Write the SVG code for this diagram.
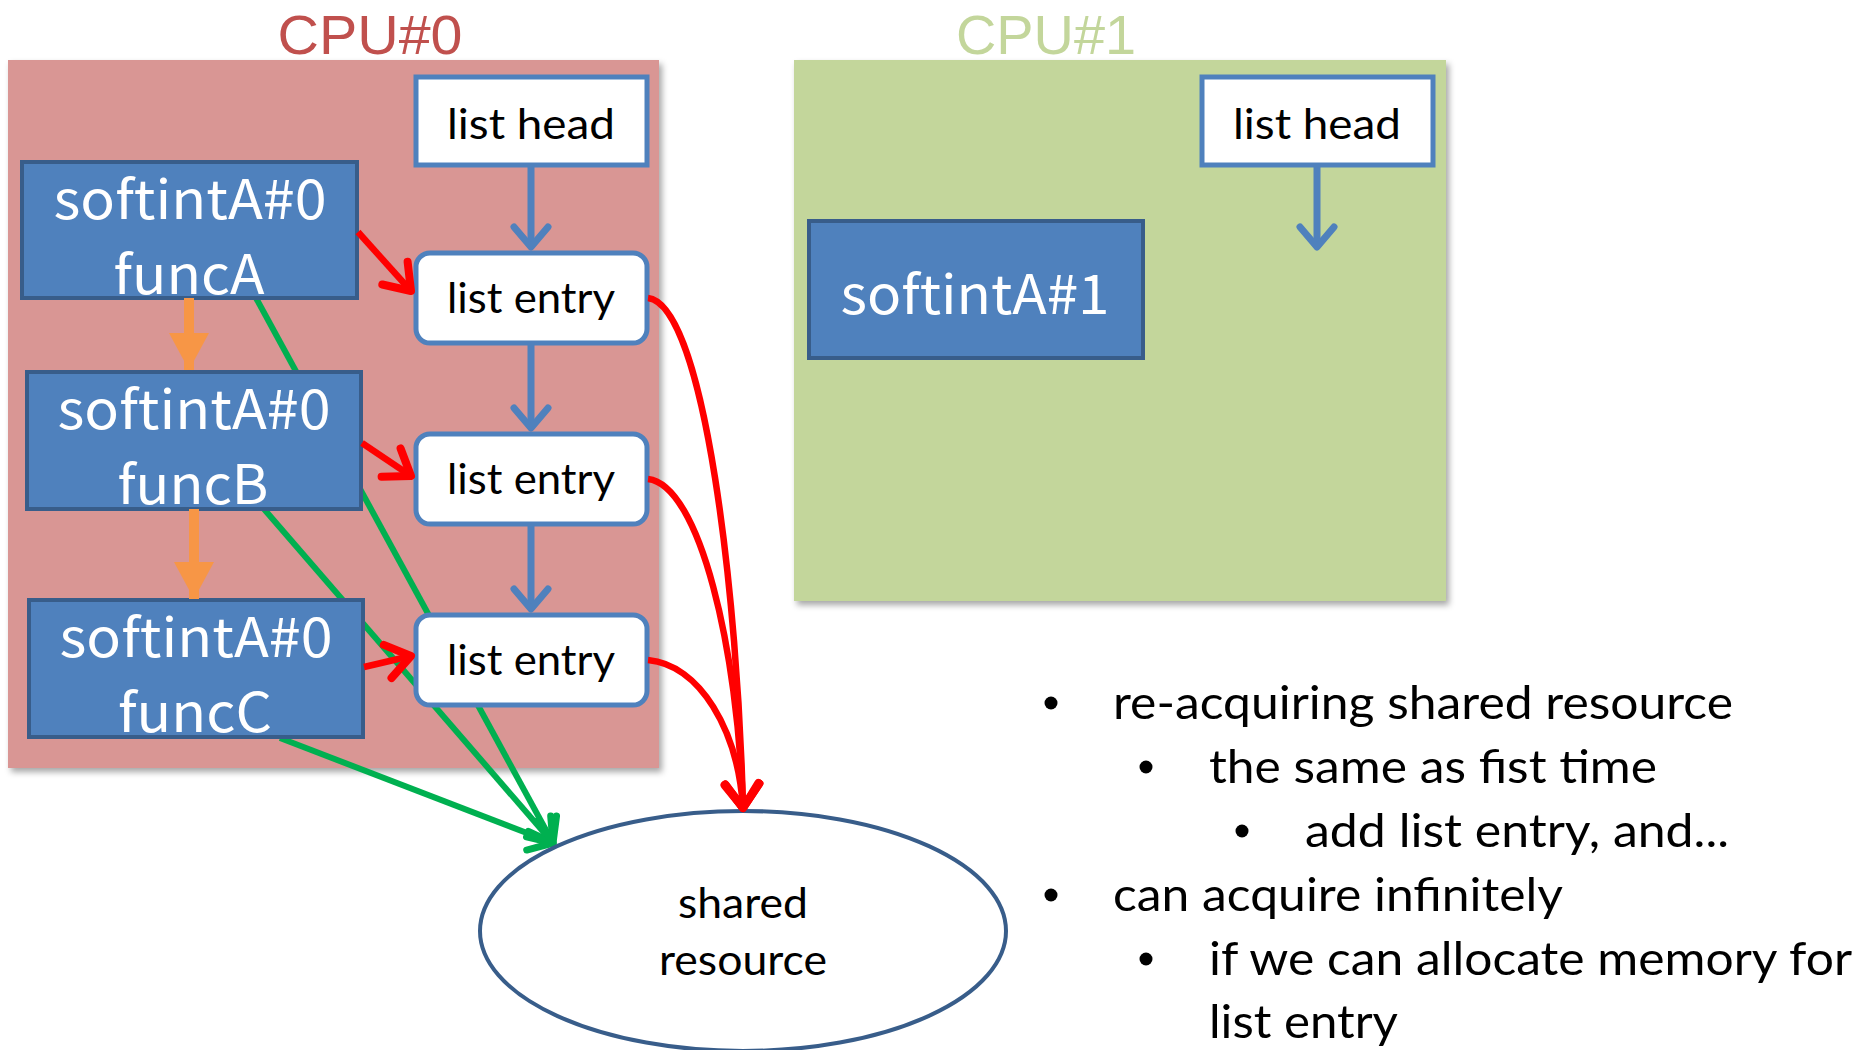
<svg xmlns="http://www.w3.org/2000/svg" width="1866" height="1050" viewBox="0 0 1866 1050">
  <style>
    .cal { font-family: Lato, "Open Sans", "Liberation Sans", sans-serif; fill: #000; }
    .goth { font-family: "Noto Sans CJK JP", "Liberation Sans", sans-serif; fill: #fff; }
    .title { font-family: "Liberation Sans", Arial, sans-serif; }
    .task { fill: #4f81bd; stroke: #385d8a; stroke-width: 4; }
    .head { fill: #fff; stroke: #4f81bd; stroke-width: 5; }
    .blue { stroke: #4f81bd; stroke-width: 7; fill: none; }
    .red { stroke: #ff0000; stroke-width: 6.5; fill: none; }
    .green { stroke: #00b050; stroke-width: 6; fill: none; }
    .orange { stroke: #f79646; stroke-width: 10; fill: none; }
  </style>
  <defs>
    <filter id="shadow" x="-5%" y="-5%" width="112%" height="112%">
      <feDropShadow dx="3" dy="4" stdDeviation="3" flood-color="#000" flood-opacity="0.35"/>
    </filter>
    <marker id="arrBlue" markerUnits="userSpaceOnUse" markerWidth="40" markerHeight="44" refX="24" refY="20" orient="auto" overflow="visible">
      <path d="M4,3 L24,20 L4,37" fill="none" stroke="#4f81bd" stroke-width="7" stroke-linecap="round" stroke-linejoin="round"/>
    </marker>
    <marker id="arrRed" markerUnits="userSpaceOnUse" markerWidth="40" markerHeight="44" refX="28" refY="20" orient="auto" overflow="visible">
      <path d="M4,3 L28,20 L4,37" fill="none" stroke="#ff0000" stroke-width="8" stroke-linecap="round" stroke-linejoin="round"/>
    </marker>
    <marker id="arrGreen" markerUnits="userSpaceOnUse" markerWidth="40" markerHeight="44" refX="26" refY="20" orient="auto" overflow="visible">
      <path d="M4,4 L26,20 L4,36" fill="none" stroke="#00b050" stroke-width="7" stroke-linecap="round" stroke-linejoin="round"/>
    </marker>
    <marker id="arrOrange" markerUnits="userSpaceOnUse" markerWidth="40" markerHeight="44" refX="37" refY="20" orient="auto" overflow="visible">
      <path d="M0,0 L37,20 L0,40 Z" fill="#f79646"/>
    </marker>
  </defs>

  <!-- CPU panels -->
  <g id="cpu0">
    <rect x="8" y="60" width="651" height="708" fill="#d99694" filter="url(#shadow)"/>
    <text class="title" x="370" y="54" font-size="56" fill="#c0504d" text-anchor="middle" textLength="185" lengthAdjust="spacingAndGlyphs">CPU#0</text>
  </g>
  <g id="cpu1">
    <rect x="794" y="60" width="652" height="541" fill="#c3d69b" filter="url(#shadow)"/>
    <text class="title" x="1046" y="54" font-size="56" fill="#c3d69b" text-anchor="middle" textLength="180" lengthAdjust="spacingAndGlyphs">CPU#1</text>
  </g>

  <!-- green lines run beneath the task boxes -->
  <g id="connectors-back">
    <path class="green" d="M256,298 L553,843" marker-end="url(#arrGreen)"/>
    <path class="green" d="M264,509 L553,843" marker-end="url(#arrGreen)"/>
    <path class="green" d="M280,738 L553,843" marker-end="url(#arrGreen)"/>
  </g>

  <!-- task boxes on CPU#0 -->
  <g id="funcA">
    <rect class="task" x="22" y="162" width="335" height="136"/>
    <text class="goth" x="190" y="219" font-size="54" text-anchor="middle" textLength="273" lengthAdjust="spacingAndGlyphs">softintA#0</text>
    <text class="goth" x="189" y="294" font-size="54" text-anchor="middle" textLength="151" lengthAdjust="spacingAndGlyphs">funcA</text>
  </g>
  <g id="funcB">
    <rect class="task" x="27" y="372" width="334" height="137"/>
    <text class="goth" x="194" y="429" font-size="54" text-anchor="middle" textLength="273" lengthAdjust="spacingAndGlyphs">softintA#0</text>
    <text class="goth" x="193" y="504" font-size="54" text-anchor="middle" textLength="151" lengthAdjust="spacingAndGlyphs">funcB</text>
  </g>
  <g id="funcC">
    <rect class="task" x="29" y="600" width="334" height="137"/>
    <text class="goth" x="196" y="657" font-size="54" text-anchor="middle" textLength="273" lengthAdjust="spacingAndGlyphs">softintA#0</text>
    <text class="goth" x="195" y="732" font-size="54" text-anchor="middle" textLength="154" lengthAdjust="spacingAndGlyphs">funcC</text>
  </g>

  <!-- list structures on CPU#0 -->
  <g id="head0">
    <rect class="head" x="416" y="77" width="231" height="88"/>
    <text class="cal" x="531" y="139" font-size="43" text-anchor="middle" textLength="168" lengthAdjust="spacingAndGlyphs">list head</text>
  </g>
  <g id="entry1">
    <rect class="head" x="416" y="253" width="231" height="90" rx="14"/>
    <text class="cal" x="531" y="313" font-size="43" text-anchor="middle" textLength="168" lengthAdjust="spacingAndGlyphs">list entry</text>
  </g>
  <g id="entry2">
    <rect class="head" x="416" y="434" width="231" height="90" rx="14"/>
    <text class="cal" x="531" y="494" font-size="43" text-anchor="middle" textLength="168" lengthAdjust="spacingAndGlyphs">list entry</text>
  </g>
  <g id="entry3">
    <rect class="head" x="416" y="615" width="231" height="90" rx="14"/>
    <text class="cal" x="531" y="675" font-size="43" text-anchor="middle" textLength="168" lengthAdjust="spacingAndGlyphs">list entry</text>
  </g>

  <!-- CPU#1 contents -->
  <g id="softintA1">
    <rect class="task" x="809" y="221" width="334" height="137"/>
    <text class="goth" x="975" y="314" font-size="54" text-anchor="middle" textLength="269" lengthAdjust="spacingAndGlyphs">softintA#1</text>
  </g>
  <g id="head1">
    <rect class="head" x="1202" y="77" width="231" height="88"/>
    <text class="cal" x="1317" y="139" font-size="43" text-anchor="middle" textLength="168" lengthAdjust="spacingAndGlyphs">list head</text>
  </g>

  <!-- shared resource -->
  <g id="shared">
    <ellipse cx="743" cy="931" rx="263" ry="120" fill="#fff" stroke="#385d8a" stroke-width="4"/>
    <text class="cal" x="743" y="918" font-size="43" text-anchor="middle" textLength="130" lengthAdjust="spacingAndGlyphs">shared</text>
    <text class="cal" x="743" y="975" font-size="43" text-anchor="middle" textLength="168" lengthAdjust="spacingAndGlyphs">resource</text>
  </g>

  <!-- connectors -->
  <g id="connectors">
    <!-- list links -->
    <path class="blue" d="M531,165 L531,247" marker-end="url(#arrBlue)"/>
    <path class="blue" d="M531,343 L531,428" marker-end="url(#arrBlue)"/>
    <path class="blue" d="M531,524 L531,609" marker-end="url(#arrBlue)"/>
    <path class="blue" d="M1317,165 L1317,247" marker-end="url(#arrBlue)"/>
    <!-- nesting order -->
    <path class="orange" d="M189,298 L189,370" marker-end="url(#arrOrange)"/>
    <path class="orange" d="M194,509 L194,599" marker-end="url(#arrOrange)"/>
    <!-- task to entry -->
    <path class="red" d="M358,232 L411,291" marker-end="url(#arrRed)"/>
    <path class="red" d="M362,443 L411,476" marker-end="url(#arrRed)"/>
    <path class="red" d="M364,667 L411,656" marker-end="url(#arrRed)"/>
    <!-- entry to shared resource -->
    <path class="red" d="M648,298 C705,305 738,600 743,808" marker-end="url(#arrRed)"/>
    <path class="red" d="M648,479 C700,485 738,650 743,808" marker-end="url(#arrRed)"/>
    <path class="red" d="M648,660 C700,665 738,730 743,808" marker-end="url(#arrRed)"/>
  </g>

  <!-- notes -->
  <g id="notes" class="cal" font-size="47">
    <circle cx="1051" cy="703" r="6.5" fill="#000"/>
    <text x="1113" y="719" textLength="620" lengthAdjust="spacingAndGlyphs">re-acquiring shared resource</text>
    <circle cx="1146" cy="767" r="6.5" fill="#000"/>
    <text x="1209" y="783" textLength="448" lengthAdjust="spacingAndGlyphs">the same as fist time</text>
    <circle cx="1242" cy="831" r="6.5" fill="#000"/>
    <text x="1305" y="847" textLength="424" lengthAdjust="spacingAndGlyphs">add list entry, and...</text>
    <circle cx="1051" cy="895" r="6.5" fill="#000"/>
    <text x="1113" y="911" textLength="450" lengthAdjust="spacingAndGlyphs">can acquire infinitely</text>
    <circle cx="1146" cy="959" r="6.5" fill="#000"/>
    <text x="1209" y="975" textLength="643" lengthAdjust="spacingAndGlyphs">if we can allocate memory for</text>
    <text x="1209" y="1038" textLength="189" lengthAdjust="spacingAndGlyphs">list entry</text>
  </g>
</svg>
